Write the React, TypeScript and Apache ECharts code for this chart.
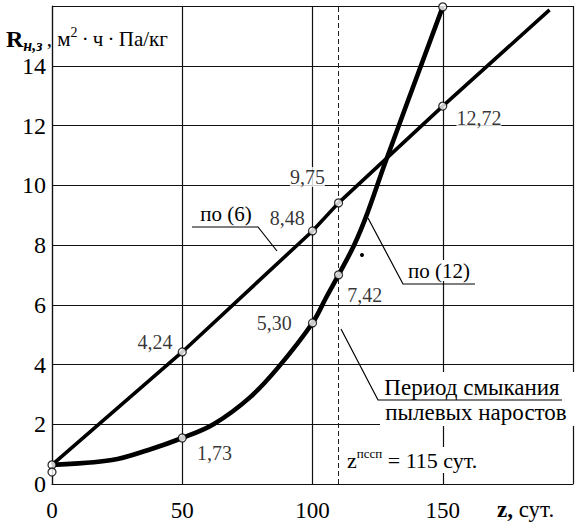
import React, { useEffect, useRef } from "react";
import * as echarts from "echarts";

// x ticks (z, days) and y ticks (R)
const xTicks = [0, 50, 100, 150];
const yTicks = [0, 2, 4, 6, 8, 10, 12, 14];

// Line "по (6)"
const linearZ = [0, 50, 100, 110, 150, 191];
const linearR = [0.64, 4.42, 8.47, 9.41, 12.65, 15.87];

// Curve "по (12)"
const curveZ = [0, 23, 37, 50, 62, 76, 87, 100, 105, 110, 116, 121, 128, 150];
const curveR = [0.64, 0.8, 1.14, 1.54, 2.0, 2.9, 3.92, 5.39, 6.2, 7.0, 8.0, 9.05, 10.78, 15.97];

// Marked points (hollow circles)
const pointZ = [0, 0, 50, 100, 110, 150, 50, 100, 110, 150];
const pointR = [0.64, 0.4, 4.42, 8.47, 9.41, 12.65, 1.54, 5.39, 7.0, 15.97];
const pointLabels = ["", "", "4,24", "8,48", "9,75", "12,72", "1,73", "5,30", "7,42", ""];

// Closing period
const closingZ = 110;

const SERIF = "Liberation Serif";
const TS = "\u2009";

export default function App() {
  const ref = useRef<HTMLDivElement>(null);
  useEffect(() => {
    if (!ref.current) return;
    const chart = echarts.init(ref.current, undefined, { renderer: "svg" });

    const labelPlace: any[] = [
      null,
      null,
      { position: "left", offset: [0, -10] },
      { position: "left", offset: [2, -13] },
      { position: "left", offset: [-4, -26] },
      { position: "right", offset: [4, 12] },
      { position: "right", offset: [5, 15] },
      { position: "left", offset: [-11, 0] },
      { position: "right", offset: [-1, 20] },
      null,
    ];

    const pointData = pointZ.map((z, i) => {
      const lp = labelPlace[i];
      return {
        value: [z, pointR[i]],
        label: lp
          ? {
              show: true,
              formatter: pointLabels[i],
              position: lp.position,
              offset: lp.offset,
              distance: 5,
              fontFamily: SERIF,
              fontSize: 20,
              color: "#000",
              backgroundColor: "#fff",
            }
          : { show: false },
      };
    });

    const gridLine = { show: true, lineStyle: { color: "#111", width: 1.2 } };

    chart.setOption({
      animation: false,
      backgroundColor: "#fff",
      textStyle: { fontFamily: SERIF },
      grid: { left: 52, right: 0, top: 6, bottom: 48, containLabel: false },
      xAxis: {
        type: "value",
        min: 0,
        max: 200,
        interval: 50,
        axisLine: { show: true, lineStyle: { color: "#111", width: 1.2 } },
        axisTick: { show: false },
        splitLine: gridLine,
        axisLabel: {
          margin: 15,
          fontFamily: SERIF,
          fontSize: 23,
          color: "#000",
          formatter: (v: number) => (xTicks.includes(v) ? String(v) : ""),
        },
      },
      yAxis: {
        type: "value",
        min: 0,
        max: 16,
        interval: 2,
        axisLine: { show: true, lineStyle: { color: "#111", width: 1.2 } },
        axisTick: { show: false },
        splitLine: gridLine,
        axisLabel: {
          margin: 6,
          fontFamily: SERIF,
          fontSize: 24,
          color: "#000",
          formatter: (v: number) => (yTicks.includes(v) ? String(v) : ""),
        },
      },
      series: [
        {
          type: "line",
          data: linearZ.map((z, i) => [z, linearR[i]]),
          showSymbol: false,
          symbol: "none",
          lineStyle: { color: "#000", width: 3.6 },
          z: 3,
          markLine: {
            silent: true,
            symbol: "none",
            label: { show: false },
            lineStyle: { color: "#222", width: 1, type: [5, 3] },
            data: [{ xAxis: closingZ }],
          },
        },
        {
          type: "line",
          data: curveZ.map((z, i) => [z, curveR[i]]),
          smooth: 0.35,
          showSymbol: false,
          symbol: "none",
          lineStyle: { color: "#000", width: 4.6 },
          z: 3,
        },
        {
          type: "scatter",
          data: pointData,
          symbol: "circle",
          symbolSize: 8,
          itemStyle: { color: "#fff", borderColor: "#000", borderWidth: 1.3 },
          z: 5,
        },
      ],
      graphic: [
        {
          type: "text",
          left: 6,
          top: 25,
          style: {
            text: `{r|R}{s|н,з}{t|${TS}, м}{p|2}{t|${TS}·${TS}ч${TS}·${TS}Па/кг}`,
            fontFamily: SERIF,
            fill: "#000",
            rich: {
              r: { fontFamily: SERIF, fontSize: 24, fontWeight: "bold", lineHeight: 28, verticalAlign: "middle" },
              s: { fontFamily: SERIF, fontSize: 16, fontWeight: "bold", fontStyle: "italic", lineHeight: 16, verticalAlign: "bottom" },
              t: { fontFamily: SERIF, fontSize: 21, lineHeight: 28, verticalAlign: "middle" },
              p: { fontFamily: SERIF, fontSize: 14, lineHeight: 14, verticalAlign: "top" },
            },
          },
          z: 20,
        },
        {
          type: "text",
          left: 497,
          top: 498,
          style: {
            text: "{b|z,}{t| сут.}",
            fill: "#000",
            rich: {
              b: { fontFamily: SERIF, fontSize: 23, fontWeight: "bold", lineHeight: 24 },
              t: { fontFamily: SERIF, fontSize: 23, lineHeight: 24 },
            },
          },
          z: 20,
        },
        // по (6)
        {
          type: "polyline",
          shape: { points: [[192, 227], [258, 227], [277, 251]] },
          style: { stroke: "#000", lineWidth: 1.2, fill: "none" },
          z: 10,
        },
        {
          type: "text",
          x: 226,
          y: 214,
          style: {
            text: "по (6)",
            fontFamily: SERIF,
            fontSize: 21,
            fill: "#000",
            align: "center",
            verticalAlign: "middle",
          },
          z: 20,
        },
        // по (12)
        {
          type: "rect",
          shape: { x: 406, y: 260, width: 66, height: 21 },
          style: { fill: "#fff" },
          z: 8,
        },
        {
          type: "polyline",
          shape: { points: [[368, 218], [403, 284], [475, 284]] },
          style: { stroke: "#000", lineWidth: 1.2, fill: "none" },
          z: 10,
        },
        {
          type: "text",
          x: 439,
          y: 271,
          style: {
            text: "по (12)",
            fontFamily: SERIF,
            fontSize: 21,
            fill: "#000",
            align: "center",
            verticalAlign: "middle",
          },
          z: 20,
        },
        // Период смыкания
        {
          type: "rect",
          shape: { x: 380, y: 372, width: 196, height: 54 },
          style: { fill: "#fff" },
          z: 8,
        },
        {
          type: "polyline",
          shape: { points: [[341, 329], [378, 400], [562, 400]] },
          style: { stroke: "#000", lineWidth: 1.2, fill: "none" },
          z: 10,
        },
        {
          type: "text",
          x: 472,
          y: 387,
          style: {
            text: "Период смыкания",
            fontFamily: SERIF,
            fontSize: 23,
            fill: "#000",
            align: "center",
            verticalAlign: "middle",
          },
          z: 20,
        },
        {
          type: "text",
          x: 476,
          y: 412,
          style: {
            text: "пылевых наростов",
            fontFamily: SERIF,
            fontSize: 23,
            fill: "#000",
            align: "center",
            verticalAlign: "middle",
          },
          z: 20,
        },
        // z closing label
        {
          type: "rect",
          shape: { x: 346, y: 447, width: 142, height: 26 },
          style: { fill: "#fff" },
          z: 8,
        },
        {
          type: "text",
          left: 347,
          top: 447,
          style: {
            text: "{z|z}{p|пссп}{t| = 115 сут.}",
            fill: "#000",
            rich: {
              z: { fontFamily: SERIF, fontSize: 22, lineHeight: 26, verticalAlign: "middle" },
              p: { fontFamily: SERIF, fontSize: 13, lineHeight: 13, verticalAlign: "top" },
              t: { fontFamily: SERIF, fontSize: 22, lineHeight: 26, verticalAlign: "middle" },
            },
          },
          z: 20,
        },
        // stray dot
        {
          type: "circle",
          shape: { cx: 362, cy: 255, r: 2 },
          style: { fill: "#000" },
          z: 10,
        },
      ],
    });
    return () => chart.dispose();
  }, []);
  return <div ref={ref} style={{ width: 576, height: 532, position: "absolute", left: 0, top: 0 }} />;
}
